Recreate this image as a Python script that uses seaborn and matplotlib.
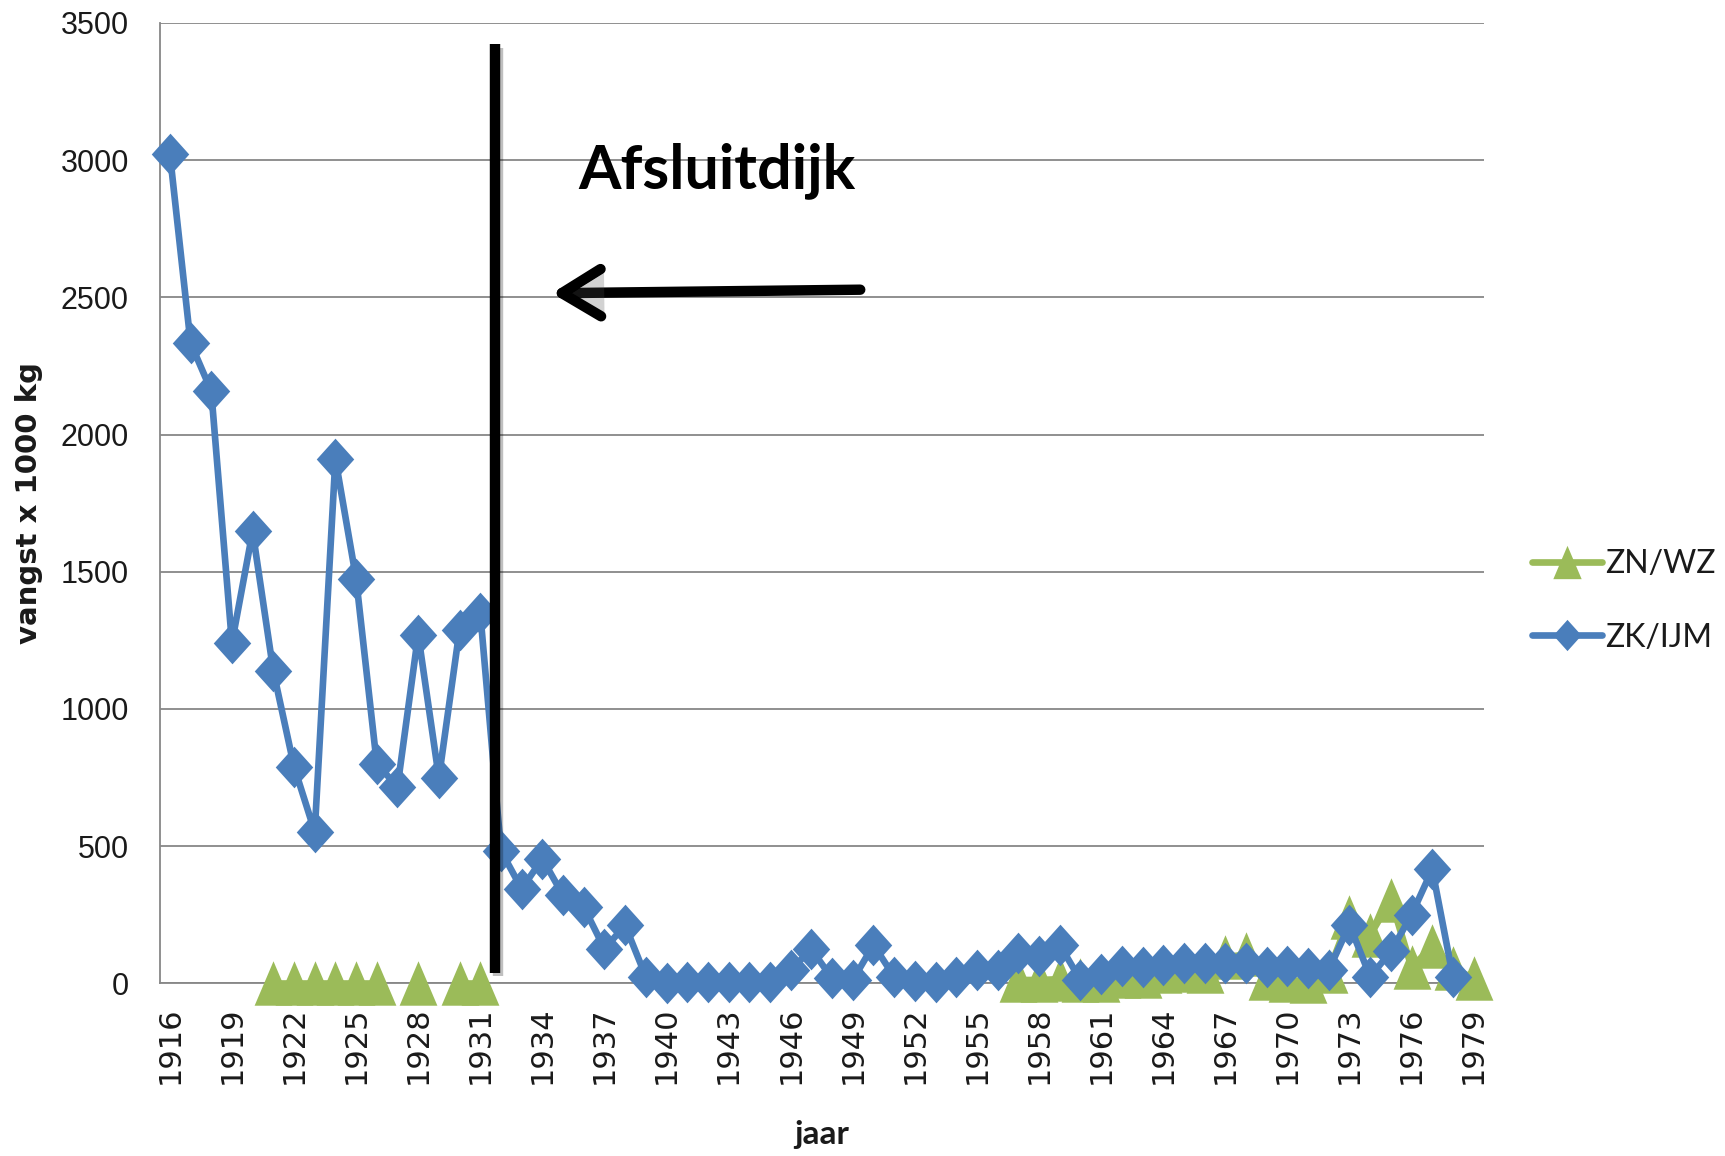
import numpy as np
import pandas as pd
import matplotlib
matplotlib.use("Agg")
import matplotlib.pyplot as plt
import matplotlib.patheffects as pe
import seaborn as sns

# ---------------- data ----------------
years = list(range(1916, 1980))

zk_ijm = [3024, 2334, 2159, 1241, 1647, 1138, 790, 552, 1911, 1475, 800, 716, 1271, 749, 1289, 1349,
          483, 344, 454, 321, 278, 126, 211, 24,
          0, 6, 4, 4, 4, 4, 49, 124, 18, 12,
          140, 24, 10, 6, 24, 49, 49, 110, 98, 140,
          12, 33, 64, 59, 67, 73, 73, 73, 73, 61,
          64, 55, 49, 213, 24, 116, 250, 415, 24, np.nan]

nan = np.nan
zn_wz = ([nan] * 5 + [0, 0, 0, 0, 0, 0] + [nan] + [0] + [nan] + [0, 0] + [nan] * 25 +
         [12, 12, 15, 12, 12, 25, 28, 45, 48, 45, 95, 105, 20, 12, 8, 45, 240, 175, 305, 58, 135, 55, 18])

series_names = ["ZN/WZ", "ZK/IJM"]
year_ticks = years[::3]
y_ticks = [0, 500, 1000, 1500, 2000, 2500, 3000, 3500]

BLUE = "#4A7EBB"
GREEN = "#9BBB59"
GRID = "#878787"
TXT = "#1a1a1a"

df_zk = pd.DataFrame({"jaar": years, "vangst": zk_ijm}).dropna()
df_zn = pd.DataFrame({"jaar": years, "vangst": zn_wz})
df_zn["seg"] = df_zn["vangst"].isna().cumsum()
df_zn = df_zn.dropna()

# custom markers (slightly taller than wide, like the original)
DIAMOND = [(0, 1), (0.9, 0), (0, -1), (-0.9, 0), (0, 1)]
TRIANGLE = [(0, 1), (0.85, -1), (-0.85, -1), (0, 1)]

sns.set_style("white")
fig = plt.figure(figsize=(17.25, 11.56), dpi=100)
W, H = 1725, 1156
L, R, T, B = 159.5, 1484, 23, 983.3
ax = fig.add_axes([L / W, 1 - B / H, (R - L) / W, (B - T) / H])

sns.lineplot(data=df_zn, x="jaar", y="vangst", units="seg", estimator=None,
             color=GREEN, linewidth=4.8, marker=TRIANGLE, markersize=32,
             markeredgewidth=0, markeredgecolor=GREEN, label=series_names[0],
             ax=ax, legend=False, zorder=3, clip_on=False)
sns.lineplot(data=df_zk, x="jaar", y="vangst", estimator=None,
             color=BLUE, linewidth=4.8, marker=DIAMOND, markersize=30,
             markeredgewidth=0, markeredgecolor=BLUE, label=series_names[1],
             ax=ax, legend=False, zorder=4, clip_on=False)

ax.set_xlim(1915.5, 1979.5)
ax.set_ylim(0, 3500)
ax.set_axisbelow(True)
ax.yaxis.grid(True, color=GRID, linewidth=1.3)
ax.xaxis.grid(False)
for s in ["top", "right"]:
    ax.spines[s].set_visible(False)
for s in ["left", "bottom"]:
    ax.spines[s].set_color(GRID)
    ax.spines[s].set_linewidth(1.3)
    ax.spines[s].set_zorder(1)

ax.set_yticks(y_ticks)
ax.set_yticklabels([str(v) for v in y_ticks])
ax.tick_params(axis="y", direction="out", length=7, width=1.2, color=GRID, pad=15,
               labelsize=22, labelcolor=TXT)
for lbl in ax.get_yticklabels():
    lbl.set_fontfamily("Liberation Sans")

ax.set_xticks(year_ticks)
ax.set_xticklabels([str(y) for y in year_ticks], rotation=90)
ax.set_xticks(np.arange(1915.5, 1980, 1), minor=True)
ax.tick_params(axis="x", which="major", length=0, pad=16.5, labelsize=22, labelcolor=TXT)
ax.tick_params(axis="x", which="minor", length=11, width=1.2, color=GRID, direction="out")
for lbl in ax.get_xticklabels():
    lbl.set_fontfamily("DejaVu Sans")

ax.set_ylabel("vangst x 1000 kg", fontsize=21, fontweight="bold", fontfamily="DejaVu Sans", color=TXT)
ax.yaxis.set_label_coords((28.6 - L) / (R - L), 0.5)
ax.yaxis.label.set_va("center")
ax.set_xlabel("jaar", fontsize=24, fontweight="bold", fontfamily="Lato", color=TXT)
ax.xaxis.set_label_coords(0.5, -(1120 - B) / (B - T))

# Afsluitdijk annotation
ax.axvline(1931.7, ymin=39 / 3500, ymax=3423 / 3500, color="black", linewidth=7.5, zorder=6,
           solid_capstyle="butt",
           path_effects=[pe.SimpleLineShadow(offset=(2.5, -2.5), alpha=0.25), pe.Normal()])
ax.annotate("", xy=(1934.46, 2515), xytext=(1949.36, 2528),
            arrowprops=dict(arrowstyle="->,head_length=2.8,head_width=1.7", lw=7.5,
                            color="black", mutation_scale=10, shrinkA=0, shrinkB=0,
                            path_effects=[pe.SimplePatchShadow(offset=(2.5, -3), alpha=0.25),
                                          pe.Normal()]),
            zorder=6)
ax.text(1935.73, 2898, "Afsluitdijk", fontsize=44, fontweight="bold", fontfamily="Lato",
        ha="left", va="baseline", color="black", zorder=6)

# legend
handles, labels = ax.get_legend_handles_labels()
uniq = {}
for h, l in zip(handles, labels):
    uniq.setdefault(l, h)
leg = ax.legend([uniq[n] for n in series_names], series_names,
                loc="center left", bbox_to_anchor=(1532 / W, 1 - 601 / H),
                bbox_transform=fig.transFigure, frameon=False,
                prop={"family": "Lato", "size": 23}, handlelength=2.2,
                handletextpad=0.1, labelspacing=1.35, borderpad=0, borderaxespad=0,
                numpoints=1, markerscale=0.75)
for t in leg.get_texts():
    t.set_color(TXT)

fig.savefig("out.png", dpi=100)
